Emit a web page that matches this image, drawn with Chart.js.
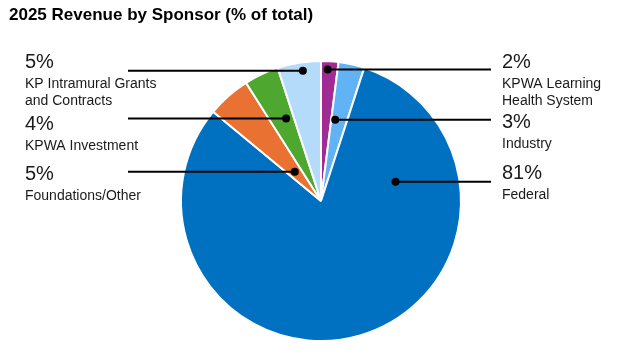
<!DOCTYPE html>
<html>
<head>
<meta charset="utf-8">
<script src="https://cdn.jsdelivr.net/npm/chart.js@4"></script>
<style>
  html, body { margin: 0; padding: 0; background: #fff; }
  .wrap { position: relative; width: 620px; height: 362px; }
  .title {
    position: absolute; left: 9px; top: 5px;
    font: bold 17px "Liberation Sans", Arial, sans-serif; color: #000;
  }
</style>
</head>
<body>
<div class="wrap">
  <div class="title">2025 Revenue by Sponsor (% of total)</div>
  <canvas id="chart" width="620" height="362"></canvas>
</div>
<script>
// slices go clockwise from 12 o'clock
const sponsors = [
  ["KPWA Learning", "Health System"],
  ["Industry"],
  ["Federal"],
  ["Foundations/Other"],
  ["KPWA Investment"],
  ["KP Intramural Grants", "and Contracts"],
];
const shares = [2, 3, 81, 5, 4, 5];
const sliceColors = ["#A02B93", "#61B3F5", "#0070C0", "#E97132", "#4EA72E", "#B5DBFB"];

// where each callout sits: side, pct baseline, dot spot inside slice (angle frac, radius frac)
const callouts = [
  { side: "right", base: 68, t: 0.4, r: 0.94 },
  { side: "right", base: 128, t: 0.25, r: 0.59 },
  { side: "right", base: 179, t: 0.197, r: 0.55 },
  { side: "left", base: 180, t: 0.47, r: 0.28 },
  { side: "left", base: 130, t: 0.66, r: 0.64 },
  { side: "left", base: 68, t: 0.56, r: 0.94 },
];

const calloutPlugin = {
  id: "callouts",
  afterDraw(chart) {
    const ctx = chart.ctx;
    const arcs = chart.getDatasetMeta(0).data;
    ctx.save();
    arcs.forEach((arc, i) => {
      const c = callouts[i];
      const p = arc.getProps(["x", "y", "startAngle", "endAngle", "outerRadius"], true);
      const a = p.startAngle + (p.endAngle - p.startAngle) * c.t;
      const dx = p.x + Math.cos(a) * p.outerRadius * c.r;
      const dy = p.y + Math.sin(a) * p.outerRadius * c.r;
      const lineEnd = c.side === "right" ? 491 : 128;

      ctx.strokeStyle = "#000";
      ctx.lineWidth = 2;
      ctx.beginPath();
      ctx.moveTo(dx, dy);
      ctx.lineTo(lineEnd, dy);
      ctx.stroke();
      ctx.fillStyle = "#000";
      ctx.beginPath();
      ctx.arc(dx, dy, 4, 0, Math.PI * 2);
      ctx.fill();

      const tx = c.side === "right" ? 502 : 25;
      ctx.textAlign = "left";
      ctx.textBaseline = "alphabetic";
      ctx.fillStyle = "#1a1a1a";
      ctx.font = '20px "Liberation Sans", Arial, sans-serif';
      ctx.fillText(shares[i] + "%", tx, c.base);
      ctx.font = '14px "Liberation Sans", Arial, sans-serif';
      sponsors[i].forEach((line, k) => {
        ctx.fillText(line, tx, c.base + 20 + k * 17);
      });
    });
    ctx.restore();
  },
};

new Chart(document.getElementById("chart"), {
  type: "pie",
  data: {
    labels: sponsors.map((s) => s.join(" ")),
    datasets: [
      {
        data: shares,
        backgroundColor: sliceColors,
        borderColor: "#fff",
        borderWidth: 2,
      },
    ],
  },
  options: {
    responsive: false,
    animation: false,
    layout: { padding: { left: 180, top: 60, right: 158, bottom: 20 } },
    plugins: {
      legend: { display: false },
      tooltip: { enabled: false },
    },
  },
  plugins: [calloutPlugin],
});
</script>
</body>
</html>
